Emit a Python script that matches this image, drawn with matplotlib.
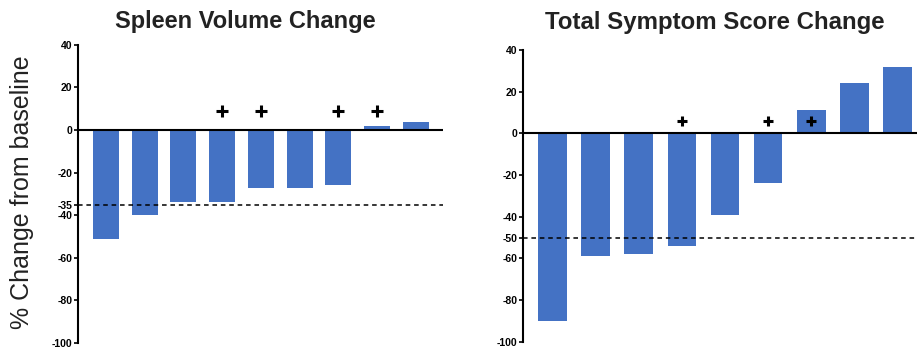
import matplotlib
matplotlib.use("Agg")
import matplotlib.pyplot as plt

# spleen volume change per patient (%)
spleen_vals = [-51, -40, -34, -34, -27, -27, -26, 2, 4]
spleen_plus = [3, 4, 6, 7]          # bars flagged with "+"
spleen_ticks = [40, 20, 0, -20, -35, -40, -60, -80, -100]
spleen_cut = -35

# total symptom score change per patient (%)
tss_vals = [-90, -59, -58, -54, -39, -24, 11, 24, 32]
tss_plus = [3, 5, 6]
tss_ticks = [40, 20, 0, -20, -40, -50, -60, -80, -100]
tss_cut = -50

BAR_COLOR = "#4472C4"
plt.rcParams["font.family"] = ["Liberation Sans", "DejaVu Sans"]

fig = plt.figure(figsize=(9.17, 3.51), dpi=100)
ax1 = fig.add_axes([0.085, 0.023, 0.398, 0.849])
ax2 = fig.add_axes([0.570, 0.026, 0.430, 0.832])


def waterfall(ax, vals, plus, ticks, cut, xlim, plus_y, plus_size):
    x = range(len(vals))
    ax.bar(x, vals, width=0.67, color=BAR_COLOR, zorder=2)
    ax.axhline(0, color="black", lw=1.5, zorder=3)
    ax.axhline(cut, color="black", lw=1.1, ls=(0, (3, 2.5)), zorder=3)
    ax.scatter(plus, [plus_y] * len(plus), marker="+", s=plus_size,
               color="black", linewidths=2.2, zorder=4)
    ax.set_xlim(*xlim)
    ax.set_ylim(-100, 40)
    ax.set_yticks(ticks)
    ax.set_yticklabels([str(t) for t in ticks], fontsize=7.5, fontweight="bold")
    ax.set_xticks([])
    for s in ["top", "right", "bottom"]:
        ax.spines[s].set_visible(False)
    ax.spines["left"].set_linewidth(1.5)
    ax.spines["left"].set_bounds(-100, 40)
    ax.tick_params(axis="y", length=3, width=1.2, pad=1)


waterfall(ax1, spleen_vals, spleen_plus, spleen_ticks, spleen_cut,
          (-0.72, 8.7), 9, 70)
waterfall(ax2, tss_vals, tss_plus, tss_ticks, tss_cut,
          (-0.7, 8.46), 6, 55)

fig.text(0.268, 0.94, "Spleen Volume Change", ha="center", va="center",
         fontsize=17, fontweight="bold", color="#222222")
fig.text(0.78, 0.935, "Total Symptom Score Change", ha="center", va="center",
         fontsize=17.3, fontweight="bold", color="#222222")
fig.text(0.024, 0.453, "% Change from baseline", rotation=90,
         ha="center", va="center", fontsize=18, color="#222222")

fig.savefig("out.png", dpi=100)
